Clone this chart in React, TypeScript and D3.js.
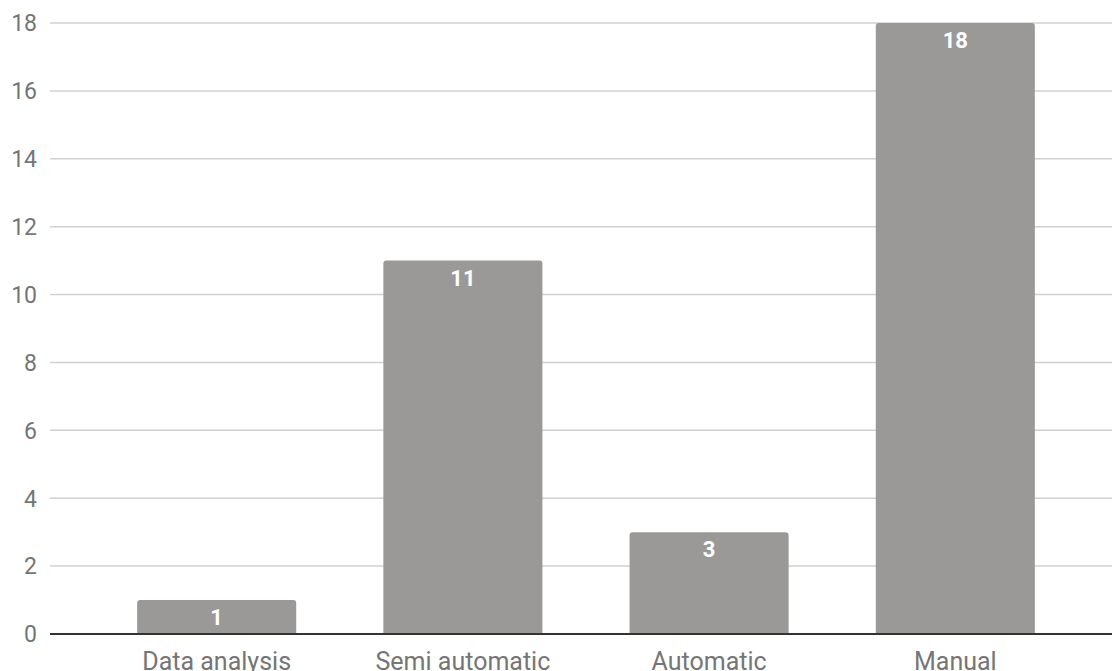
import React, { useEffect, useRef } from "react";
import * as d3 from "d3";

const categories = ["Data analysis", "Semi automatic", "Automatic", "Manual"];
const counts = [1, 11, 3, 18];
const yTicks = [0, 2, 4, 6, 8, 10, 12, 14, 16, 18];

const W = 1112;
const H = 671;

export default function App() {
  const ref = useRef<SVGSVGElement>(null);

  useEffect(() => {
    const svg = d3.select(ref.current);
    svg.selectAll("*").remove();

    const x = d3
      .scaleBand<string>()
      .domain(categories)
      .range([50, 1122])
      .paddingInner(0.354)
      .paddingOuter(0.354);
    const y = d3.scaleLinear().domain([0, 18]).range([634, 23]);

    const font = "Roboto, 'Noto Sans', sans-serif";

    // horizontal gridlines
    svg
      .append("g")
      .selectAll("line")
      .data(yTicks.filter((t) => t !== 0))
      .join("line")
      .attr("x1", 50)
      .attr("x2", W)
      .attr("y1", (d) => y(d))
      .attr("y2", (d) => y(d))
      .attr("stroke", "#d0d0d0")
      .attr("stroke-width", 1.5);

    // y tick labels
    svg
      .append("g")
      .selectAll("text")
      .data(yTicks)
      .join("text")
      .attr("x", 37)
      .attr("y", (d) => y(d))
      .attr("dy", "0.36em")
      .attr("text-anchor", "end")
      .attr("font-family", font)
      .attr("font-size", 23)
      .attr("fill", "#757575")
      .text((d) => d);

    // bars with rounded top corners
    const r = 3;
    svg
      .append("g")
      .selectAll("path")
      .data(categories.map((c, i) => ({ c, v: counts[i] })))
      .join("path")
      .attr("d", (d) => {
        const x0 = x(d.c)!;
        const x1 = x0 + x.bandwidth();
        const y0 = y(0);
        const y1 = y(d.v);
        return `M${x0},${y0}V${y1 + r}Q${x0},${y1} ${x0 + r},${y1}H${x1 - r}Q${x1},${y1} ${x1},${y1 + r}V${y0}Z`;
      })
      .attr("fill", "#9a9998");

    // value labels inside bars
    svg
      .append("g")
      .selectAll("text")
      .data(categories.map((c, i) => ({ c, v: counts[i] })))
      .join("text")
      .attr("x", (d) => x(d.c)! + x.bandwidth() / 2)
      .attr("y", (d) => y(d.v) + 25)
      .attr("text-anchor", "middle")
      .attr("font-family", font)
      .attr("font-size", 22)
      .attr("font-weight", "bold")
      .attr("fill", "#ffffff")
      .text((d) => d.v);

    // baseline
    svg
      .append("line")
      .attr("x1", 50)
      .attr("x2", W)
      .attr("y1", y(0))
      .attr("y2", y(0))
      .attr("stroke", "#333333")
      .attr("stroke-width", 2);

    // category labels
    svg
      .append("g")
      .selectAll("text")
      .data(categories)
      .join("text")
      .attr("x", (d) => x(d)! + x.bandwidth() / 2)
      .attr("y", 670)
      .attr("text-anchor", "middle")
      .attr("font-family", font)
      .attr("font-size", 25)
      .attr("fill", "#757575")
      .text((d) => d);
  }, []);

  return (
    <svg
      ref={ref}
      width={W}
      height={H}
      style={{ position: "absolute", left: 0, top: 0, background: "#fff" }}
    />
  );
}
